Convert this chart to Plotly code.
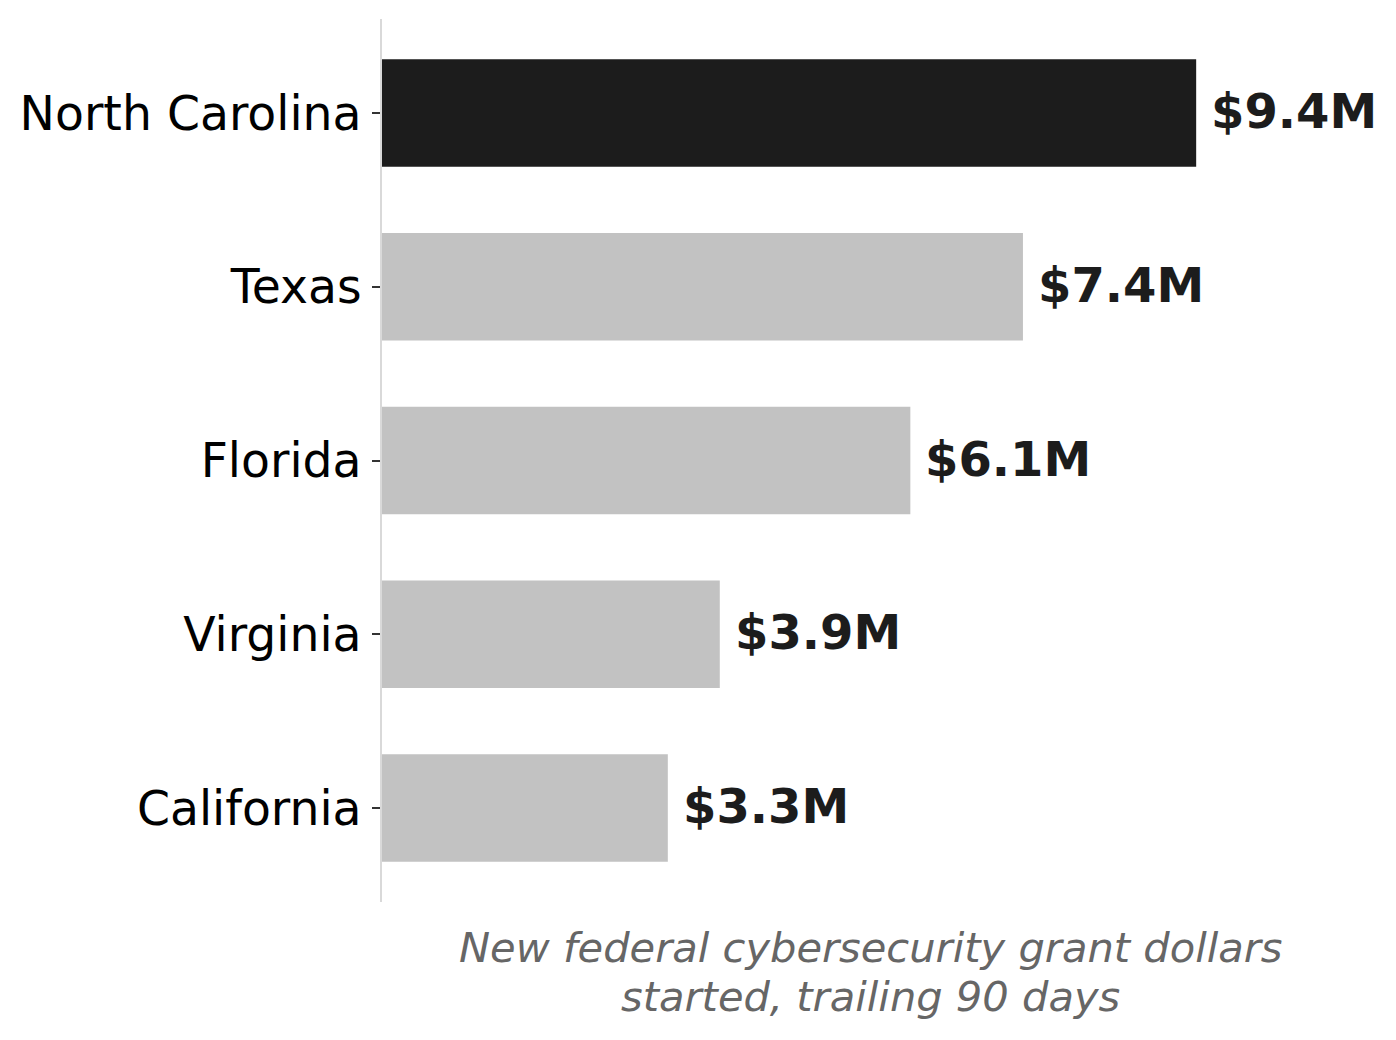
import plotly.graph_objects as go

states = ["California", "Virginia", "Florida", "Texas", "North Carolina"]
values = [3.3, 3.9, 6.1, 7.4, 9.4]
value_labels = ["$3.3M", "$3.9M", "$6.1M", "$7.4M", "$9.4M"]
highlight = "North Carolina"
xlabel_lines = ["New federal cybersecurity grant dollars", "started, trailing 90 days"]

colors = ["#1c1c1c" if s == highlight else "#c2c2c2" for s in states]

fig = go.Figure()
fig.add_trace(go.Bar(
    x=values, y=states, orientation="h",
    marker=dict(color=colors, line=dict(width=0)),
    width=0.62, hoverinfo="skip",
))

for s, v, lab in zip(states, values, value_labels):
    fig.add_annotation(
        x=v, y=s, xref="x", yref="y", text=lab, showarrow=False,
        xanchor="left", yanchor="middle", xshift=13, yshift=2,
        font=dict(family="DejaVu Sans", size=48, color="#1c1c1c", weight="bold"),
    )

ys = [-0.052, -0.1075]
for line, yv in zip(xlabel_lines, ys):
    fig.add_annotation(
        x=0.5, y=yv, xref="paper", yref="paper", text=line, showarrow=False,
        xanchor="center", yanchor="middle",
        font=dict(family="DejaVu Sans", size=41.6, color="#666666", style="italic"),
    )

fig.update_layout(
    width=1396, height=1040,
    margin=dict(l=374, r=45, t=11, b=146, pad=0),
    paper_bgcolor="white", plot_bgcolor="white",
    showlegend=False,
    xaxis=dict(range=[0, 11.28], showgrid=False, zeroline=False, showline=False,
               showticklabels=False, ticks=""),
    yaxis=dict(range=[-0.541, 4.541], showgrid=False, zeroline=False,
               showline=True, linecolor="#d9d9d9", linewidth=2,
               ticks="outside", ticklen=8, tickwidth=1.5, tickcolor="#333333",
               ticklabelstandoff=1,
               tickfont=dict(family="DejaVu Sans", size=47.3, color="#000000")),
)

fig.write_html("out.html")
